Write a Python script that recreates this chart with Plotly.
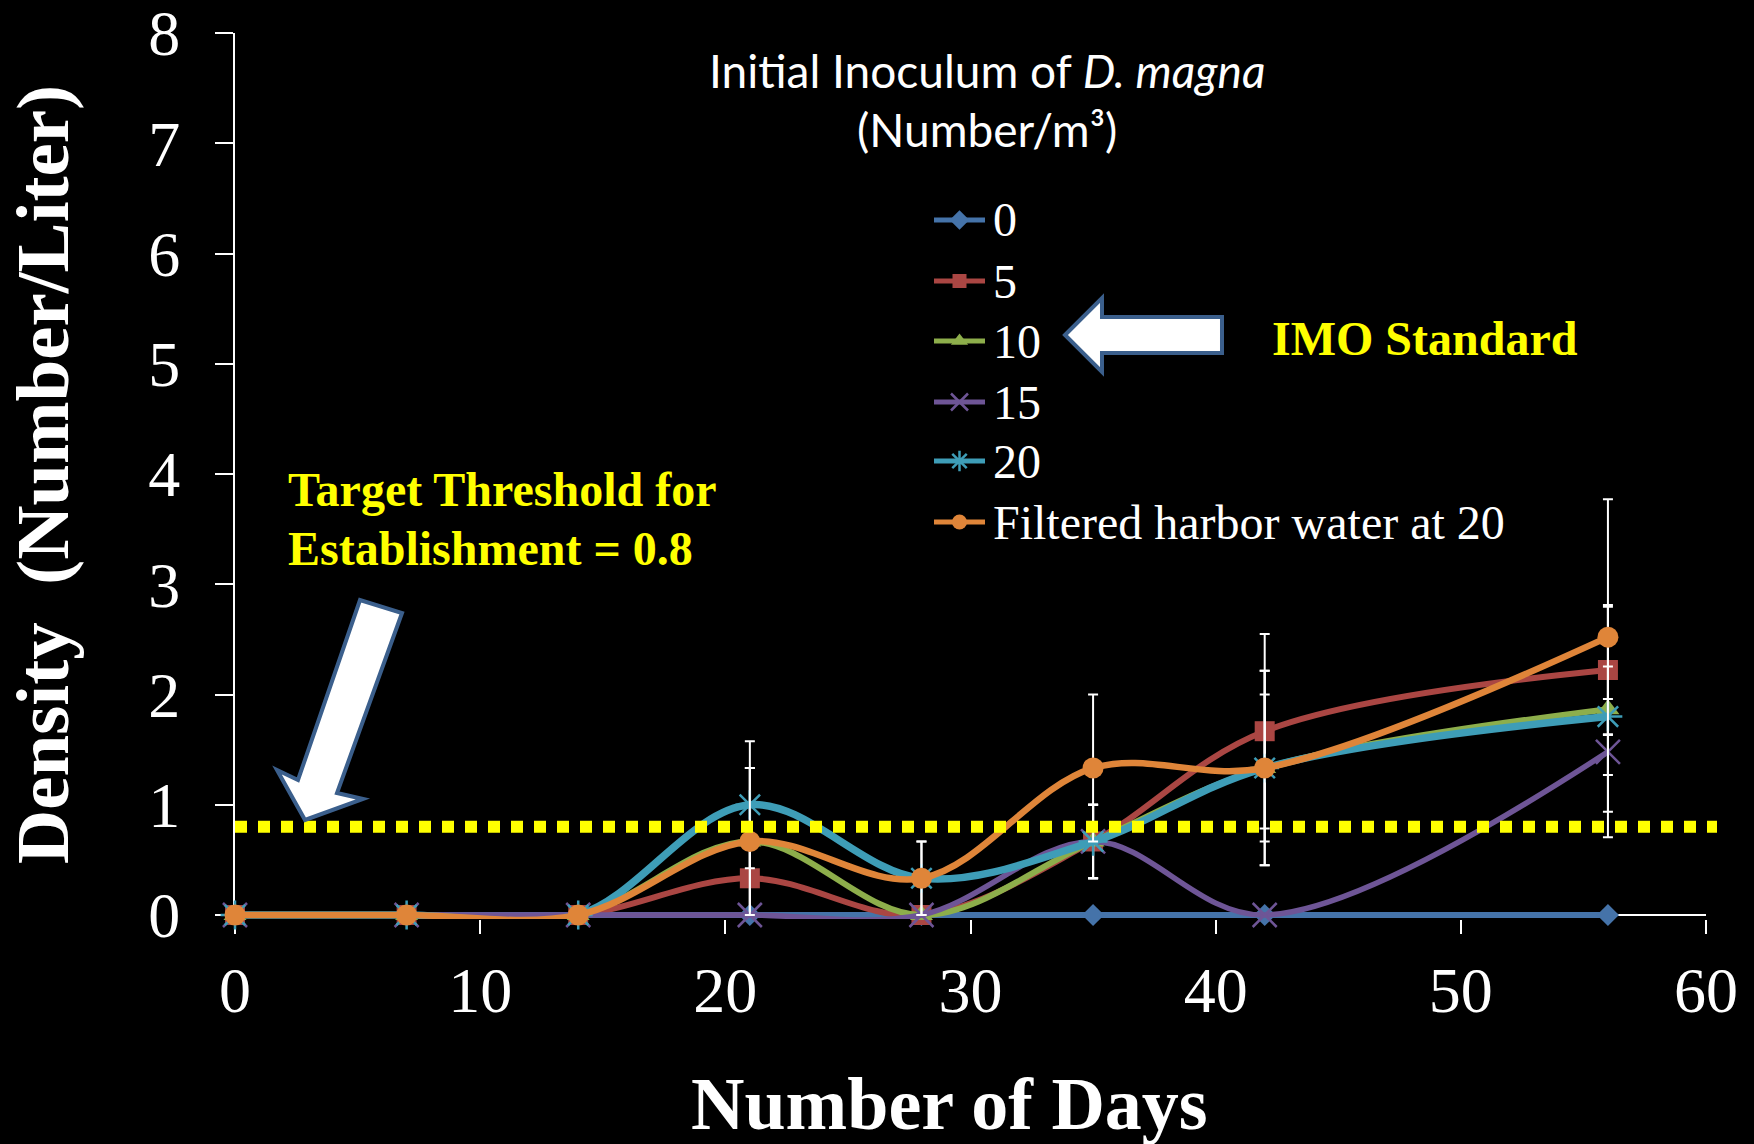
import numpy as np
import plotly.graph_objects as go

# Sampling days and mean densities (number per liter) for each inoculum level
days = [0, 7, 14, 21, 28, 35, 42, 56]

series_names = ["0", "5", "10", "15", "20", "Filtered harbor water at 20"]

density_0 = [0, 0, 0, 0, 0, 0, 0, 0]
density_5 = [0, 0, 0, 0.333, 0, 0.667, 1.667, 2.222]
density_10 = [0, 0, 0, 0.667, 0, 0.667, 1.333, 1.867]
density_15 = [0, 0, 0, 0, 0, 0.667, 0, 1.48]
density_20 = [0, 0, 0, 1.0, 0.333, 0.667, 1.333, 1.8]
density_filtered = [0, 0, 0, 0.667, 0.333, 1.333, 1.333, 2.52]

# Standard errors (None where no bar is shown)
err_0 = [None] * 8
err_5 = [None, None, None, 0.333, None, 0.333, 0.882, 0.59]
err_10 = [None, None, None, 0.667, None, 0.333, 0.882, 0.93]
err_15 = [None, None, None, None, None, 0.333, None, 0.775]
err_20 = [None, None, None, 0.577, 0.333, 0.333, 0.882, 0.16]
err_filtered = [None, None, None, 0.667, 0.333, 0.667, 0.667, 1.25]

threshold = 0.8

x_ticks = [0, 10, 20, 30, 40, 50, 60]
y_ticks = [0, 1, 2, 3, 4, 5, 6, 7, 8]

# Styling
colors = ["#4573A9", "#AA4643", "#8DAE4B", "#6E5596", "#3E9DB7", "#DF8539"]
symbols = ["diamond", "square", "triangle-up", "x-thin-open", "asterisk-open", "circle"]
sizes = [17, 20, 20, 24, 24, 21]
key_sizes = [15, 14, 15, 17, 17, 15]
widths = [6, 6, 6, 5.5, 7.5, 6.5]

all_density = [density_0, density_5, density_10, density_15, density_20, density_filtered]
all_err = [err_0, err_5, err_10, err_15, err_20, err_filtered]

# Plot area in pixels (figure is 1754 x 1144). The value 0 sits at y=915;
# the area reaches a few pixels lower so lines along zero are not clipped.
L, R, T = 235, 1706, 33
Y0_PX = 915
UNIT_PX = (Y0_PX - T) / 8.0
B = Y0_PX + 4
y_low = -(B - Y0_PX) / UNIT_PX
W, H = R - L, B - T


def px(xp):
    return (xp - L) / W


def py(yp):
    return (B - yp) / H


def marker_style(sym, size, col):
    m = dict(symbol=sym, size=size, color=col)
    if sym.endswith("-open"):
        m["line"] = dict(color=col, width=2.5)
    else:
        m["line"] = dict(color=col, width=0)
    return m


fig = go.Figure()

for name, dens, err, col, sym, size, lw in zip(series_names, all_density, all_err,
                                                colors, symbols, sizes, widths):
    err_arr = np.array([np.nan if e is None else e for e in err], dtype=float)
    has_err = not np.all(np.isnan(err_arr))
    fig.add_trace(go.Scatter(
        x=days, y=dens, name=name,
        mode="lines+markers",
        line=dict(color=col, width=lw, shape="spline", smoothing=1.0),
        marker=marker_style(sym, size, col),
        cliponaxis=False, showlegend=False,
        error_y=dict(type="data", array=err_arr, visible=has_err,
                     color="white", thickness=2, width=5),
    ))

# Legend keys drawn on an overlay axis that spans the plot area in [0, 1]
key_rows = [220, 281, 341, 402, 461, 522]
key_x0, key_x1, text_x = 934, 985, 991
for name, col, sym, ksize, row in zip(series_names, colors, symbols, key_sizes, key_rows):
    fig.add_trace(go.Scatter(
        x=[px(key_x0), px(key_x1)], y=[py(row), py(row)],
        xaxis="x2", yaxis="y2", mode="lines",
        line=dict(color=col, width=5), showlegend=False,
        hoverinfo="skip", cliponaxis=False,
    ))
    fig.add_trace(go.Scatter(
        x=[px((key_x0 + key_x1) / 2)], y=[py(row)],
        xaxis="x2", yaxis="y2", mode="markers",
        marker=marker_style(sym, ksize, col), showlegend=False,
        hoverinfo="skip", cliponaxis=False,
    ))

axis_common = dict(
    linecolor="white", linewidth=2,
    ticks="outside", tickwidth=2, tickcolor="white",
    showgrid=False, zeroline=False,
    tickfont=dict(family="Liberation Serif", size=64, color="white"),
    ticklabeloverflow="allow",
    layer="below traces", automargin=False,
)

fig.update_xaxes(range=[0, 60], tickvals=x_ticks, ticklen=14, ticklabelstandoff=1,
                 showline=False, **axis_common)
fig.update_yaxes(range=[y_low, 8], tickvals=y_ticks, ticklen=18, ticklabelstandoff=22,
                 showline=True, **axis_common)

hidden_axis = dict(range=[0, 1], visible=False, fixedrange=True,
                   showgrid=False, zeroline=False, showline=False, showticklabels=False)
fig.update_layout(
    xaxis2=dict(overlaying="x", anchor="y2", **hidden_axis),
    yaxis2=dict(overlaying="y", anchor="x2", **hidden_axis),
)

shapes = [
    # x-axis baseline at zero, kept under the series lines
    dict(type="line", xref="paper", yref="y", x0=0, x1=1, y0=0, y1=0,
         layer="below", line=dict(color="white", width=2)),
    # Target threshold line (dotted yellow)
    dict(type="line", xref="paper", yref="y", x0=0, x1=px(1717),
         y0=threshold, y1=threshold, layer="above",
         line=dict(color="#FFFF00", width=12, dash="12px,11px")),
]

# Block arrows (white fill, blue outline)
arrow_outline = "#3B5F8C"
left_arrow = [(1065, 335), (1102, 298), (1102, 317), (1222, 317),
              (1222, 353), (1102, 353), (1102, 372)]
diag_arrow = [(305, 820), (277, 770), (298, 780), (360, 600),
              (402, 613), (337, 793), (363, 799)]
for poly in (left_arrow, diag_arrow):
    path = "M " + " L ".join(f"{px(a):.5f},{py(b):.5f}" for a, b in poly) + " Z"
    shapes.append(dict(type="path", xref="paper", yref="paper", path=path,
                       fillcolor="white", layer="above",
                       line=dict(color=arrow_outline, width=4)))

serif_white = dict(family="Liberation Serif", size=48, color="white")
serif_yellow = dict(family="Liberation Serif", size=48, color="#FFFF00")

annotations = [
    dict(text="Initial Inoculum of <i>D. magna</i>",
         x=px(987), y=py(70), xref="paper", yref="paper",
         xanchor="center", yanchor="middle", showarrow=False,
         font=dict(family="Lato", size=46, color="white")),
    dict(text="(Number/m³)",
         x=px(987), y=py(129), xref="paper", yref="paper",
         xanchor="center", yanchor="middle", showarrow=False,
         font=dict(family="Lato", size=46, color="white")),
    dict(text="<b>IMO Standard</b>", x=px(1270), y=py(338), xref="paper", yref="paper",
         xanchor="left", yanchor="middle", showarrow=False, font=serif_yellow),
    dict(text="<b>Target Threshold for</b>", x=px(286), y=py(489), xref="paper", yref="paper",
         xanchor="left", yanchor="middle", showarrow=False, font=serif_yellow),
    dict(text="<b>Establishment = 0.8</b>", x=px(286), y=py(548), xref="paper", yref="paper",
         xanchor="left", yanchor="middle", showarrow=False, font=serif_yellow),
    dict(text="<b>Number of Days</b>", x=px(949), y=py(1104), xref="paper", yref="paper",
         xanchor="center", yanchor="middle", showarrow=False,
         font=dict(family="Liberation Serif", size=74, color="white")),
    dict(text="<b>Density\u00a0 (Number/Liter)</b>", x=px(42), y=py(475),
         xref="paper", yref="paper", textangle=-90,
         xanchor="center", yanchor="middle", showarrow=False,
         font=dict(family="Liberation Serif", size=75, color="white")),
]

# Legend labels
for name, row in zip(series_names, key_rows):
    annotations.append(dict(text=name, x=px(text_x), y=py(row), xref="paper", yref="paper",
                            xanchor="left", yanchor="middle", showarrow=False,
                            font=serif_white))

fig.update_layout(
    width=1754, height=1144,
    margin=dict(l=L, r=1754 - R, t=T, b=1144 - B, pad=0),
    paper_bgcolor="black", plot_bgcolor="rgba(0,0,0,0)",
    showlegend=False,
    shapes=shapes,
    annotations=annotations,
)

fig.write_html("out.html")
